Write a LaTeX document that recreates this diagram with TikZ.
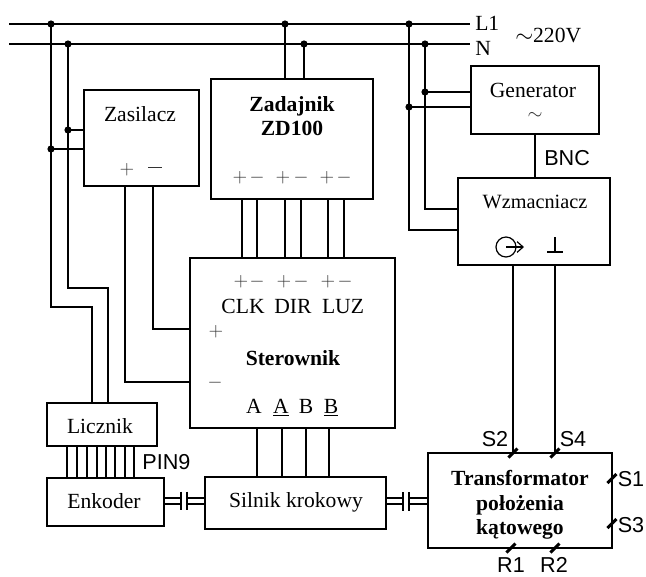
\documentclass[tikz,border=0pt]{standalone}
\usepackage{fontspec}
\usetikzlibrary{arrows.meta}
\setmainfont{Liberation Serif}
\newfontfamily\arialfont{Liberation Sans}
\tikzset{
    box/.style={draw, line width=1.25pt, inner sep=0pt, rectangle},
    wire/.style={line width=1.1pt},
    txt/.style={font=\fontsize{16.2}{18}\selectfont, inner sep=0pt, text height=10.7pt, text depth=0pt},
    sign/.style={font=\fontsize{13.5}{16}\selectfont, inner sep=0pt, text=black!80},
    pin/.style={font=\arialfont\fontsize{16.2}{18}\selectfont, inner sep=0pt, text height=11.6pt, text depth=0pt},
    strong/.style={font=\bfseries\fontsize{16.2}{18.5}\selectfont, inner sep=0pt, align=center},
    tick/.style={line width=2.2pt}
}
\begin{document}
\begin{tikzpicture}[x=0.75pt,y=-0.75pt]
    \useasboundingbox (0,0) rectangle (646,576);
    % boxes
    \node[box, minimum width=86.25pt, minimum height=72pt] (zasilacz) at (141.5,138) {};
    \node[box, minimum width=121.5pt, minimum height=90pt] (zadajnik) at (292,139) {};
    \node[box, minimum width=153.75pt, minimum height=127.5pt] (sterownik) at (292.5,343) {};
    \node[box, minimum width=82.5pt, minimum height=32.25pt] (licznik) at (102,424.5) {};
    \node[box, minimum width=87.75pt, minimum height=36pt] (enkoder) at (105.5,502) {};
    \node[box, minimum width=135.75pt, minimum height=39pt] (silnik) at (295.5,503) {};
    \node[box, minimum width=138pt, minimum height=71.25pt] (transformator) at (520,500.5) {};
    \node[box, minimum width=96pt, minimum height=51pt] (generator) at (535,100) {};
    \node[box, minimum width=114pt, minimum height=65.25pt] (wzmacniacz) at (534,221.5) {};
    % mains
    \coordinate (L) at (9,24);
    \coordinate (Lend) at (470,24);
    \coordinate (N) at (9,44);
    \coordinate (Nend) at (470,44);
    \coordinate (La) at (51,24);
    \coordinate (Lb) at (285,24);
    \coordinate (Lc) at (409,24);
    \coordinate (Na) at (68,44);
    \coordinate (Nb) at (304,44);
    \coordinate (Nc) at (425,44);
    \draw[wire] (L) -- (Lend);
    \draw[wire] (N) -- (Nend);
    \node[txt, anchor=west] (l1) at (475,23.5) {L1};
    \node[txt, anchor=west] (n) at (475,48) {N};
    \node[txt, anchor=west] (volt) at (515,35) {$\sim$220V};
    % supply branches
    \coordinate (Zb) at (51,149);
    \coordinate (Za) at (68,130);
    \draw[wire] (La) -- (51,307) -| (licznik.north -| 92,0);
    \draw[wire] (Na) -- (68,288) -| (licznik.north -| 108,0);
    \draw[wire] (Za) -- (Za -| zasilacz.west);
    \draw[wire] (Zb) -- (Zb -| zasilacz.west);
    \draw[wire] (Lb) -- (Lb |- zadajnik.north);
    \draw[wire] (Nb) -- (Nb |- zadajnik.north);
    \coordinate (Ga) at (425,92);
    \coordinate (Gb) at (409,107);
    \draw[wire, line width=1.4pt] (Ga) -- (Ga -| generator.west);
    \draw[wire] (Gb) -- (Gb -| generator.west);
    \draw[wire] (Nc) |- (wzmacniacz.west |- 0,209);
    \draw[wire] (Lc) |- (wzmacniacz.west |- 0,230);
    \foreach \dot in {La,Lb,Lc,Na,Nb,Nc,Za,Zb,Ga,Gb}
        \fill (\dot) circle (3.6);
    % Zasilacz to Sterownik
    \draw[wire] (zasilacz.south -| 153,0) |- (sterownik.west |- 0,329);
    \draw[wire] (zasilacz.south -| 125,0) |- (sterownik.west |- 0,382);
    % Zadajnik to Sterownik
    \foreach \x in {242,257,285,301,328,344}
        \draw[wire] (zadajnik.south -| \x,0) -- (sterownik.north -| \x,0);
    % Sterownik to Silnik
    \foreach \x in {257,282,306,329}
        \draw[wire] (sterownik.south -| \x,0) -- (silnik.north -| \x,0);
    % Licznik to Enkoder
    \foreach \x in {67,77,87,97,106,115,125,134}
        \draw[wire] (licznik.south -| \x,0) -- (enkoder.north -| \x,0);
    \node[pin] (pin9) at (166.5,462) {PIN9};
    % couplings
    \coordinate (Ca) at (181,498);
    \coordinate (Cb) at (187,498);
    \coordinate (Cc) at (403,498);
    \coordinate (Cd) at (409,498);
    \draw[wire] (enkoder.east |- Ca) -- (Ca);
    \draw[wire] (enkoder.east |- 0,504) -- (Ca |- 0,504);
    \draw[wire] (Cb) -- (silnik.west |- Cb);
    \draw[wire] (Cb |- 0,504) -- (silnik.west |- 0,504);
    \draw[wire] (181,491.5) -- (181,510);
    \draw[wire] (187,491.5) -- (187,510);
    \draw[wire] (silnik.east |- Cc) -- (Cc);
    \draw[wire] (silnik.east |- 0,504) -- (Cc |- 0,504);
    \draw[wire] (Cd) -- (transformator.west |- Cd);
    \draw[wire] (Cd |- 0,504) -- (transformator.west |- 0,504);
    \draw[wire] (403,492) -- (403,511);
    \draw[wire] (409,492) -- (409,511);
    % Generator and Wzmacniacz
    \draw[wire] (generator.south) -- (generator.south |- wzmacniacz.north);
    \node[pin, anchor=west] (bnc) at (544,157.5) {BNC};
    \draw[wire] (wzmacniacz.south -| 513,0) -- (transformator.north -| 513,0);
    \draw[wire] (wzmacniacz.south -| 555,0) -- (transformator.north -| 555,0);
    \node[txt] (generatorl) at (533,90) {Generator};
    \node[sign] (generatort) at (535,116) {$\sim$};
    \node[txt, font=\fontsize{15.2}{18}\selectfont] (wzmacniaczl) at (535,201.5) {Wzmacniacz};
    \coordinate (out) at (506,247);
    \draw[line width=0.9pt] (out) circle (10);
    \draw[line width=0.9pt, -{Straight Barb[length=4.5pt,width=8pt]}] (out) -- (524,247);
    \draw[line width=0.9pt] (555,237) -- (555,252);
    \draw[line width=0.9pt] (547,252) -- (563,252);
    % ticks on Transformator
    \coordinate (Sa) at (513,453);
    \coordinate (Sb) at (555,453);
    \coordinate (Sc) at (612,478.5);
    \coordinate (Sd) at (612,523.5);
    \coordinate (Ra) at (511,548);
    \coordinate (Rb) at (555,548);
    \foreach \p in {Sa,Sb,Sc,Sd,Ra,Rb}
        \draw[tick] ([shift={(-4.5,4.5)}]\p) -- ([shift={(4.5,-4.5)}]\p);
    \node[pin] (s2) at (495,439) {S2};
    \node[pin] (s4) at (573,439) {S4};
    \node[pin] (s1) at (631,479) {S1};
    \node[pin] (s3) at (631,525) {S3};
    \node[pin] (r1) at (511,565) {R1};
    \node[pin] (r2) at (554,565) {R2};
    % labels
    \node[txt] (zasilaczl) at (140,114.5) {Zasilacz};
    \node[sign] (zplus) at (127,170) {$+$};
    \node[sign] (zminus) at (155,170) {\rule[3.2pt]{10pt}{0.6pt}};
    \node[strong] (zadajnikl) at (292,116) {Zadajnik\\ZD100};
    \node[sign] (zda) at (240,178) {$+$};
    \node[sign] (zdb) at (257,178) {$-$};
    \node[sign] (zdc) at (283,178) {$+$};
    \node[sign] (zdd) at (301,178) {$-$};
    \node[sign] (zde) at (327,178) {$+$};
    \node[sign] (zdf) at (344,178) {$-$};
    \node[sign] (sta) at (241,282) {$+$};
    \node[sign] (stb) at (257,282) {$-$};
    \node[sign] (stc) at (284,282) {$+$};
    \node[sign] (std) at (301,282) {$-$};
    \node[sign] (ste) at (328,282) {$+$};
    \node[sign] (stf) at (345,282) {$-$};
    \node[txt] (clk) at (243,306.5) {CLK};
    \node[txt] (dir) at (293,306.5) {DIR};
    \node[txt] (luz) at (343,306.5) {LUZ};
    \node[sign] (stplus) at (216,332) {$+$};
    \node[sign] (stminus) at (215,383) {$-$};
    \node[strong] (sterownikl) at (293,358) {Sterownik};
    \node[txt] (pa) at (254,406.5) {A};
    \node[txt] (pan) at (281,406.5) {\underline{A}};
    \node[txt] (pb) at (306,406.5) {B};
    \node[txt] (pbn) at (331,406.5) {\underline{B}};
    \node[txt] (licznikl) at (100,426.5) {Licznik};
    \node[txt] (enkoderl) at (104,501.5) {Enkoder};
    \node[txt] (silnikl) at (296,500.5) {Silnik krokowy};
    \node[strong] (transformatorl) at (520,505) {Transformator\\położenia\\kątowego};
\end{tikzpicture}
\end{document}
